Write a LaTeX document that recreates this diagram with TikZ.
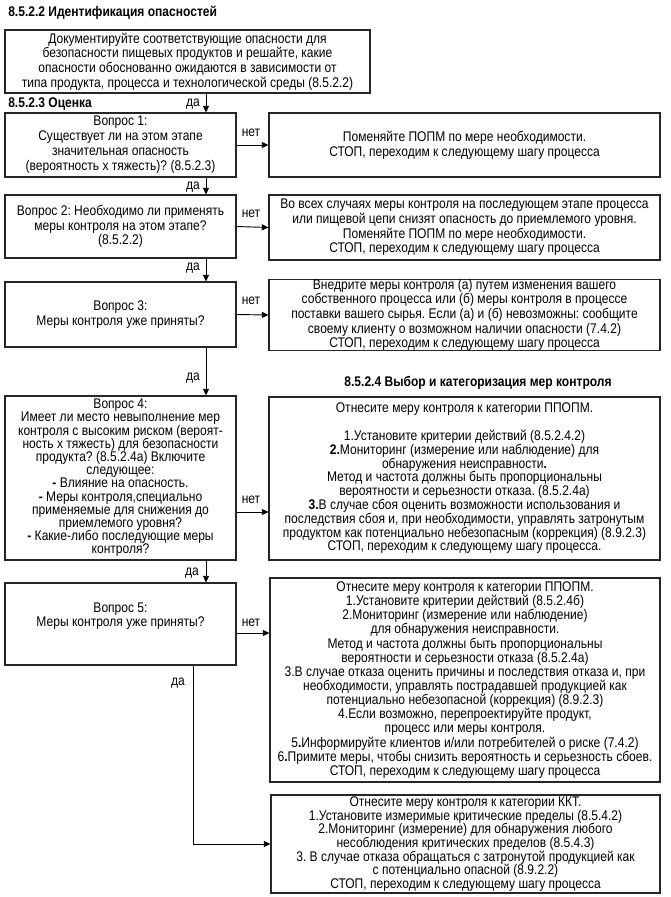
\documentclass[tikz,border=0pt]{standalone}
\usepackage{fontspec}
\setmainfont{Liberation Sans}[FakeStretch=0.86]
\usetikzlibrary{arrows.meta}
\frenchspacing
\begin{document}
\begin{tikzpicture}[x=0.75pt,y=-0.75pt,
  box/.style={draw=black!85,line width=0.8pt,align=center,inner sep=0pt,font=\fontsize{10.5}{11}\selectfont},
  tight/.style={font=\fontsize{10.5}{10.35}\selectfont},
  arr/.style={draw=black,line width=0.7pt,-{Triangle[length=5pt,width=4.5pt]}},
  lbl/.style={font=\fontsize{10.5}{12}\selectfont,inner sep=0pt},
  head/.style={font=\fontsize{10.5}{12}\selectfont\bfseries,inner sep=0pt,anchor=west}]
\fill[white] (0,0) rectangle (671,897);
\useasboundingbox (0,0) rectangle (671,897);

% headings
\node[head] (h1) at (8,13) {8.5.2.2 Идентификация опасностей};
\node[head] (h2) at (8,104) {8.5.2.3 Оценка};
\node[head,anchor=center] (h3) at (478,383) {8.5.2.4 Выбор и категоризация мер контроля};

% boxes
\node[box,minimum width=273.75pt,minimum height=47.25pt] (b0) at (187.5,61.5)
 {Документируйте соответствующие опасности для\\
  безопасности пищевых продуктов и решайте, какие\\
  опасности обоснованно ожидаются в зависимости от\\
  типа продукта, процесса и технологической среды (8.5.2.2)};

\node[box,font=\fontsize{10.5}{11.25}\selectfont,minimum width=173.25pt,minimum height=48pt] (q1) at (120.5,145)
 {Вопрос 1:\\Существует ли на этом этапе\\значительная опасность\\(вероятность х тяжесть)? (8.5.2.3)};
\node[box,minimum width=293.25pt,minimum height=48pt] (b1) at (464.5,145)
 {Поменяйте ПОПМ по мере необходимости.\\СТОП, переходим к следующему шагу процесса};

\node[box,minimum width=173.25pt,minimum height=47.25pt] (q2) at (120.5,226.5)
 {Вопрос 2: Необходимо ли применять\\меры контроля на этом этапе?\\(8.5.2.2)};
\node[box,minimum width=293.25pt,minimum height=48.75pt] (b2) at (464.5,227.5)
 {Во всех случаях меры контроля на последующем этапе процесса\\
  или пищевой цепи снизят опасность до приемлемого уровня.\\
  Поменяйте ПОПМ по мере необходимости.\\
  СТОП, переходим к следующему шагу процесса};

\node[box,minimum width=173.25pt,minimum height=48.75pt] (q3) at (120.5,314.5)
 {Вопрос 3:\\Меры контроля уже приняты?};
\node[box,minimum width=293.25pt,minimum height=52.5pt] (b3) at (464.5,315)
 {Внедрите меры контроля (а) путем изменения вашего\\
  собственного процесса или (б) меры контроля в процессе\\
  поставки вашего сырья. Если (а) и (б) невозможны: сообщите\\
  своему клиенту о возможном наличии опасности (7.4.2)\\
  СТОП, переходим к следующему шагу процесса};

\node[box,font=\fontsize{10.5}{9.9}\selectfont,minimum width=173.25pt,minimum height=123pt] (q4) at (120.5,478)
 {Вопрос 4:\\
  Имеет ли место невыполнение мер\\
  контроля с высоким риском (вероят-\\
  ность х тяжесть) для безопасности\\
  продукта? (8.5.2.4а) Включите\\
  следующее:\\
  \textbf{-} Влияние на опасность.\\
  \textbf{-} Меры контроля,специально\\
  применяемые для снижения до\\
  приемлемого уровня?\\
  \textbf{-} Какие-либо последующие меры\\
  контроля?};
\node[box,tight,minimum width=293.25pt,minimum height=122.25pt] (b4) at (464.5,478.5)
 {Отнесите меру контроля к категории ППОПМ.\\[10.35pt]
  1.Установите критерии действий (8.5.2.4.2)\\
  \textbf{2.}Мониторинг (измерение или наблюдение) для\\
  обнаружения неисправности\textbf{.}\\
  Метод и частота должны быть пропорциональны\\
  вероятности и серьезности отказа. (8.5.2.4а)\\
  \textbf{3.}В случае сбоя оценить возможности использования и\\
  последствия сбоя и, при необходимости, управлять затронутым\\
  продуктом как потенциально небезопасным (коррекция) (8.9.2.3)\\
  СТОП, переходим к следующему шагу процесса.};

\node[box,minimum width=173.25pt,minimum height=61.5pt] (q5) at (120.5,624) {};
\node[lbl,align=center,font=\fontsize{10.5}{11}\selectfont] (q5t) at (120.5,616) {Вопрос 5:\\Меры контроля уже приняты?};
\node[box,font=\fontsize{10.5}{10.6}\selectfont,minimum width=292.5pt,minimum height=153pt] (b5) at (465,680)
 {Отнесите меру контроля к категории ППОПМ.\\
  1.Установите критерии действий (8.5.2.4б)\\
  2.Мониторинг (измерение или наблюдение)\\
  для обнаружения неисправности.\\
  Метод и частота должны быть пропорциональны\\
  вероятности и серьезности отказа (8.5.2.4а)\\
  3.В случае отказа оценить причины и последствия отказа и, при\\
  необходимости, управлять пострадавшей продукцией как\\
  потенциально небезопасной (коррекция) (8.9.2.3)\\
  4.Если возможно, перепроектируйте продукт,\\
  процесс или меры контроля.\\
  5\textbf{.}Информируйте клиентов и/или потребителей о риске (7.4.2)\\
  6\textbf{.}Примите меры, чтобы снизить вероятность и серьезность сбоев.\\
  СТОП, переходим к следующему шагу процесса};

\node[box,font=\fontsize{10.5}{10.25}\selectfont,minimum width=291.75pt,minimum height=73.5pt] (b6) at (465.5,844)
 {Отнесите меру контроля к категории ККТ.\\
  1.Установите измеримые критические пределы (8.5.4.2)\\
  2.Мониторинг (измерение) для обнаружения любого\\
  несоблюдения критических пределов (8.5.4.3)\\
  3. В случае отказа обращаться с затронутой продукцией как\\
  с потенциально опасной (8.9.2.2)\\
  СТОП, переходим к следующему шагу процесса};

% helper coordinates
\coordinate (ax) at (206,0);
\coordinate (yx) at (193,0);
\coordinate (n4) at (0,512);
\coordinate (n5) at (0,633);

% yes arrows
\draw[arr] (b0.south -| ax) -- (q1.north -| ax);
\draw[arr] (q1.south -| ax) -- (q2.north -| ax);
\draw[arr] (q2.south -| ax) -- (q3.north -| ax);
\draw[arr] (q3.south -| ax) -- (q4.north -| ax);
\draw[arr] (q4.south -| ax) -- (q5.north -| ax);
\draw[arr] (q5.south -| yx) |- (b6.west);

\node[lbl] (y0) at (193,104) {да};
\node[lbl] (y1) at (193,187) {да};
\node[lbl] (y2) at (193,268) {да};
\node[lbl] (y3) at (193,378) {да};
\node[lbl] (y4) at (192,573) {да};
\node[lbl] (y5) at (178,683) {да};

% no arrows
\draw[arr] (q1.east) -- (b1.west);
\draw[arr] (q2.east) -- (b2.west);
\draw[arr] (q3.east) -- (b3.west);
\draw[arr] (q4.east |- n4) -- (b4.west |- n4);
\draw[arr] (q5.east |- n5) -- (b5.west |- n5);

\node[lbl] (n1l) at (251,133) {нет};
\node[lbl] (n2l) at (251,214) {нет};
\node[lbl] (n3l) at (251,301) {нет};
\node[lbl] (n4l) at (251,500) {нет};
\node[lbl] (n5l) at (251,623) {нет};
\end{tikzpicture}
\end{document}
